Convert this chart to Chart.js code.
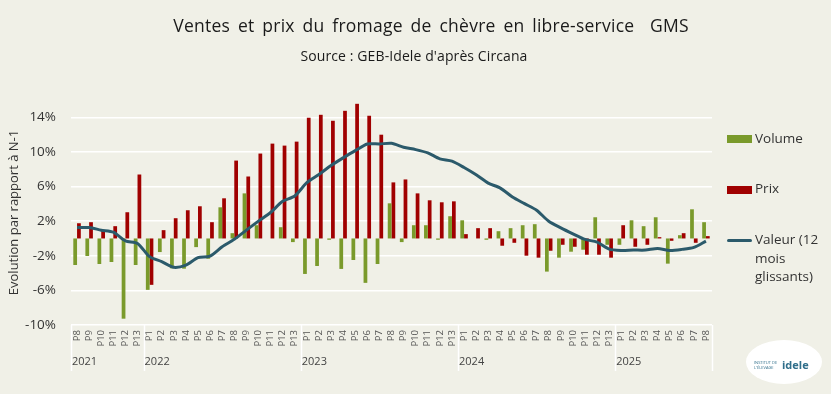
<!DOCTYPE html>
<html>
<head>
<meta charset="utf-8">
<script src="https://cdn.jsdelivr.net/npm/chart.js@4/dist/chart.umd.min.js"></script>
<style>
  html, body { margin: 0; padding: 0; background: #f0f0e7; }
  #wrap { position: relative; width: 831px; height: 394px; background: #f0f0e7; overflow: hidden; font-family: "Open Sans", "Noto Sans", sans-serif; color: #222; }
  #c { position: absolute; left: 0; top: 0; }
  .title { position: absolute; top: 13px; left: 0; width: 862px; text-align: center; font-size: 17.5px; white-space: pre; color: #1a1a1a; letter-spacing: 0.25px; word-spacing: 3px; }
  .sub { position: absolute; top: 46px; left: 0; width: 828px; text-align: center; font-size: 14px; color: #1a1a1a; letter-spacing: 0.1px; }
  .leg { position: absolute; left: 727px; font-size: 13.5px; color: #333; line-height: 18.7px; }
  .sw { position: absolute; left: 727px; width: 25px; height: 8px; }
  .logo { position: absolute; left: 746px; top: 340px; width: 76px; height: 44px; background: #fff; border-radius: 50%; }
  .logo span { position: absolute; left: 36px; top: 17px; font-size: 11px; font-weight: bold; color: #2f6e8a; }
  .logo i { position: absolute; left: 8px; top: 20px; font-size: 4px; font-style: normal; color: #2f6e8a; width: 26px; line-height: 5px; }
</style>
</head>
<body>
<div id="wrap">
  <canvas id="c" width="831" height="394"></canvas>
  <div class="title">Ventes et prix du fromage de chèvre en libre-service  GMS</div>
  <div class="sub">Source : GEB-Idele d'après Circana</div>
  <div class="sw" style="top:135px;background:#7a9a2b"></div>
  <div class="leg" style="left:755px;top:129px">Volume</div>
  <div class="sw" style="top:186px;background:#a00000"></div>
  <div class="leg" style="left:755px;top:179px">Prix</div>
  <div class="sw" style="top:238.5px;height:3px;border-radius:2px;background:#2b5a6b"></div>
  <div class="leg" style="left:755px;top:230px">Valeur (12<br>mois<br>glissants)</div>
  <div class="logo"><i>INSTITUT DE L'ÉLEVAGE</i><span>idele</span></div>
</div>
<script>
const periods = [
  "P8","P9","P10","P11","P12","P13",
  "P1","P2","P3","P4","P5","P6","P7","P8","P9","P10","P11","P12","P13",
  "P1","P2","P3","P4","P5","P6","P7","P8","P9","P10","P11","P12","P13",
  "P1","P2","P3","P4","P5","P6","P7","P8","P9","P10","P11","P12","P13",
  "P1","P2","P3","P4","P5","P6","P7","P8"
];
const years = ["2021","2022","2023","2024","2025"];
const yearCounts = [6, 13, 13, 13, 8];

const volume = [
  -3.07,-2.03,-2.95,-2.72,-9.27,-3.07,
  -5.94,-1.57,-3.45,-3.49,-1.0,-2.34,3.6,0.61,5.21,1.53,0,1.3,-0.42,
  -4.1,-3.18,-0.15,-3.52,-2.49,-5.13,-2.95,4.06,-0.42,1.53,1.53,-0.15,2.57,
  2.1,0,-0.15,0.84,1.19,1.53,1.65,-3.83,-2.22,-1.53,-1.3,2.45,-0.73,
  -0.73,2.1,1.42,2.45,-2.91,0.38,3.37,1.88
];
const prix = [
  1.76,1.88,0.96,1.42,3.03,7.39,
  -5.36,0.96,2.34,3.26,3.72,1.88,4.64,9.0,7.16,9.81,10.96,10.73,11.19,
  13.95,14.29,13.6,14.75,15.56,14.18,11.99,6.48,6.82,5.21,4.41,4.18,4.29,
  0.5,1.19,1.19,-0.84,-0.5,-1.99,-2.22,-1.42,-0.73,-0.96,-1.88,-1.88,-2.22,
  1.53,-0.96,-0.73,0.15,-0.27,0.61,-0.5,0.27
];
const valeur = [
  1.26,1.26,0.96,0.73,-0.27,-0.57,
  -2.1,-2.68,-3.33,-3.07,-2.22,-2.03,-0.96,-0.1,0.96,2.0,3.0,4.29,4.9,
  6.44,7.39,8.43,9.31,10.15,10.92,10.92,11.0,10.54,10.27,9.89,9.2,8.93,
  8.2,7.36,6.4,5.82,4.79,4.02,3.26,1.99,1.23,0.54,-0.11,-0.42,-1.23,
  -1.38,-1.34,-1.34,-1.15,-1.38,-1.26,-1.03,-0.3
];
const yTicks = [-10, -6, -2, 2, 6, 10, 14];

const yearPlugin = {
  id: 'years',
  afterDraw(chart) {
    const ctx = chart.ctx;
    const area = chart.chartArea;
    const step = (area.right - area.left) / periods.length;
    ctx.save();
    ctx.strokeStyle = '#ffffff';
    ctx.lineWidth = 1.5;
    let idx = 0;
    const bounds = [0];
    yearCounts.forEach(c => { idx += c; bounds.push(idx); });
    bounds.forEach(b => {
      const x = Math.round(area.left + b * step) + 0.5;
      ctx.beginPath();
      ctx.moveTo(x, area.bottom);
      ctx.lineTo(x, 371);
      ctx.stroke();
    });
    ctx.fillStyle = '#444';
    ctx.font = '11px "Open Sans", "Noto Sans", sans-serif';
    ctx.textBaseline = 'middle';
    ctx.textAlign = 'left';
    years.forEach((y, i) => {
      const x = area.left + bounds[i] * step + 1;
      ctx.fillText(y, x, 362);
    });
    ctx.restore();
  }
};

new Chart(document.getElementById('c'), {
  type: 'bar',
  data: {
    labels: periods,
    datasets: [
      { type: 'line', label: 'Valeur (12 mois glissants)', data: valeur, borderColor: '#2b5a6b', borderWidth: 3, pointRadius: 0, tension: 0.25, order: 0 },
      { label: 'Volume', data: volume, backgroundColor: '#7a9a2b', categoryPercentage: 0.62, barPercentage: 1.0, order: 1 },
      { label: 'Prix', data: prix, backgroundColor: '#a00000', categoryPercentage: 0.62, barPercentage: 1.0, order: 2 }
    ]
  },
  options: {
    responsive: false,
    animation: false,
    events: [],
    layout: { padding: { top: 100, right: 119, bottom: 0, left: 0 } },
    plugins: { legend: { display: false }, tooltip: { enabled: false }, title: { display: false } },
    scales: {
      x: {
        grid: { display: false, drawTicks: false },
        border: { display: false },
        ticks: { minRotation: 90, maxRotation: 90, autoSkip: false, padding: 5, color: '#555', font: { family: '"Open Sans", "Noto Sans", sans-serif', size: 9.5 } },
        afterFit(s) { s.height = 69; }
      },
      y: {
        min: -10, max: 16,
        afterBuildTicks(s) { s.ticks = yTicks.map(v => ({ value: v })); },
        grid: { color: '#ffffff', lineWidth: 1.5, drawTicks: false },
        border: { display: false },
        ticks: { padding: 15, color: '#333', font: { family: '"Open Sans", "Noto Sans", sans-serif', size: 13.5 }, callback: v => v + '%' },
        title: { display: true, text: 'Evolution par rapport à N-1', color: '#333', font: { family: '"Open Sans", "Noto Sans", sans-serif', size: 13 }, padding: { top: 6, bottom: 0 } },
        afterFit(s) { s.width = 71; }
      }
    }
  },
  plugins: [yearPlugin]
});
</script>
</body>
</html>
